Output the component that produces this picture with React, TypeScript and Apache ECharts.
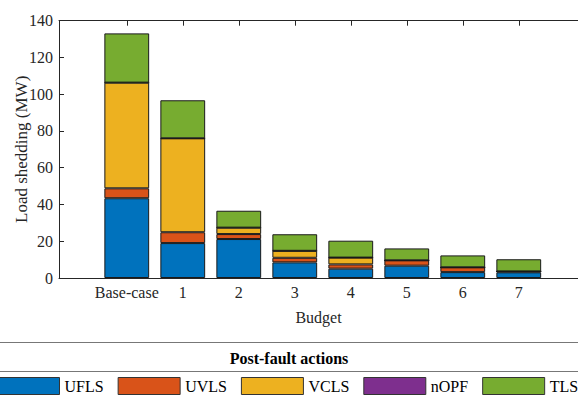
import React, { useEffect, useRef } from "react";
import * as echarts from "echarts";

const categories = ["Base-case", "1", "2", "3", "4", "5", "6", "7"];
const seriesNames = ["UFLS", "UVLS", "VCLS", "nOPF", "TLS"];
const UFLS = [43.4, 19.0, 21.2, 8.5, 5.1, 6.7, 3.2, 3.1];
const UVLS = [5.4, 5.9, 2.7, 2.5, 2.3, 2.9, 2.6, 0.5];
const VCLS = [57.5, 51.1, 3.5, 3.8, 3.7, 0, 0, 0];
const nOPF = [0, 0, 0, 0, 0, 0, 0, 0];
const TLS = [26.8, 20.7, 9.2, 9.0, 9.2, 6.5, 6.5, 6.6];
const yTicks = [0, 20, 40, 60, 80, 100, 120, 140];
const colors = ["#0072BD", "#D95319", "#EDB120", "#7E2F8E", "#77AC30"];

const FONT = "'Liberation Serif', 'Times New Roman', serif";
const AX = "#262626";

export default function App() {
  const ref = useRef<HTMLDivElement>(null);
  useEffect(() => {
    if (!ref.current) return;
    const chart = echarts.init(ref.current, undefined, { renderer: "svg" });
    const allData = [UFLS, UVLS, VCLS, nOPF, TLS];
    const catIdx = categories.map((_, i) => i);
    const xMin = -1.21;
    const xMax = xMin + (578 - 59) / 56;
    const xCommon = {
      type: "value" as const,
      min: xMin,
      max: xMax,
      splitLine: { show: false },
      axisLine: { show: true, onZero: false, lineStyle: { color: AX, width: 1 } },
      axisTick: {
        show: true,
        inside: true,
        length: 5,
        customValues: catIdx,
        lineStyle: { color: AX },
      },
    };
    chart.setOption({
      animation: false,
      grid: {
        left: 59,
        right: 0,
        top: 20.7,
        bottom: 120,
        containLabel: false,
        outerBoundsMode: "none",
      },
      xAxis: [
        {
          ...xCommon,
          position: "bottom",
          name: "Budget",
          nameLocation: "middle",
          nameGap: 31,
          nameTextStyle: { fontFamily: FONT, fontSize: 16, color: AX },
          axisLabel: {
            show: true,
            customValues: catIdx,
            formatter: (v: number) => categories[Math.round(v)] ?? "",
            fontFamily: FONT,
            fontSize: 16,
            color: AX,
            margin: 6,
          },
        },
        {
          ...xCommon,
          position: "top",
          axisLabel: { show: false },
        },
      ],
      yAxis: {
        type: "value",
        min: 0,
        max: 140,
        interval: 20,
        name: "Load shedding (MW)",
        nameLocation: "middle",
        nameGap: 29,
        nameMoveOverlap: false,
        nameTextStyle: { fontFamily: FONT, fontSize: 17, color: AX },
        splitLine: { show: false },
        axisLine: { show: true, onZero: false, lineStyle: { color: AX, width: 1 } },
        axisTick: { show: true, inside: true, length: 5, lineStyle: { color: AX } },
        axisLabel: {
          fontFamily: FONT,
          fontSize: 16,
          color: AX,
          margin: 6,
          formatter: (v: number) => (yTicks.includes(v) ? String(v) : ""),
        },
      },
      legend: {
        left: -3,
        top: 377,
        width: 800,
        orient: "horizontal",
        itemWidth: 62,
        itemHeight: 17,
        itemGap: 14,
        icon: "rect",
        padding: 0,
        itemStyle: { borderColor: "#333", borderWidth: 1 },
        textStyle: { fontFamily: FONT, fontSize: 16, color: "#000", padding: [0, 0, 0, 0] },
        data: seriesNames,
      },
      graphic: [
        {
          type: "line",
          shape: { x1: 0, y1: 342.5, x2: 578, y2: 342.5 },
          style: { stroke: "#777", lineWidth: 1 },
        },
        {
          type: "line",
          shape: { x1: 0, y1: 371.5, x2: 578, y2: 371.5 },
          style: { stroke: "#777", lineWidth: 1 },
        },
        {
          type: "text",
          x: 289,
          y: 358,
          style: {
            text: "Post-fault actions",
            fontFamily: FONT,
            fontSize: 16,
            fontWeight: "bold",
            fill: "#000",
            align: "center",
            verticalAlign: "middle",
          },
        },
      ],
      series: seriesNames.map((name, si) => ({
        name,
        type: "bar",
        stack: "total",
        xAxisIndex: 0,
        barWidth: 44.8,
        encode: { x: 1, y: 0 },
        itemStyle: { color: colors[si], borderColor: "#1a1a1a", borderWidth: 1 },
        data: allData[si].map((v, i) => [v, i]),
      })),
    });
    return () => chart.dispose();
  }, []);
  return (
    <div
      ref={ref}
      style={{ position: "fixed", left: 0, top: 0, width: 578, height: 398, background: "#fff" }}
    />
  );
}
